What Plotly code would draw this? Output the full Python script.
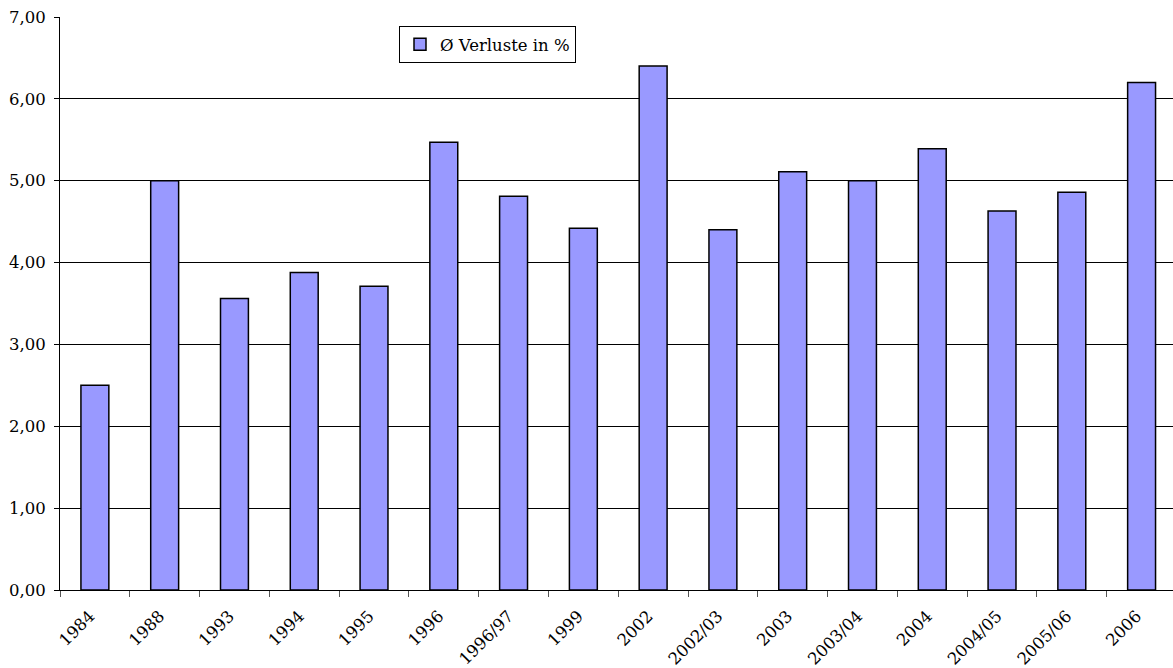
import plotly.graph_objects as go

categories = ["1984", "1988", "1993", "1994", "1995", "1996", "1996/97", "1999",
              "2002", "2002/03", "2003", "2003/04", "2004", "2004/05", "2005/06", "2006"]
values = [2.50, 5.00, 3.56, 3.88, 3.71, 5.47, 4.81, 4.42,
          6.40, 4.40, 5.11, 5.00, 5.39, 4.63, 4.86, 6.20]
series_name = "Ø Verluste in %"
y_ticks = [0, 1, 2, 3, 4, 5, 6, 7]

font_family = "DejaVu Serif"
fs = 16.5

fig = go.Figure(go.Bar(
    x=categories, y=values, name=series_name,
    marker=dict(color="#9999FF", line=dict(color="black", width=1.5)),
    width=0.4, showlegend=True,
))

fig.update_layout(
    template="none",
    width=1173, height=668,
    margin=dict(l=60, r=0, t=17, b=78),
    paper_bgcolor="white", plot_bgcolor="white",
    separators=",.",
    font=dict(family=font_family, size=fs, color="black"),
    legend=dict(
        x=(399 - 60) / 1113, y=1 - (26 - 17) / 573, xanchor="left", yanchor="top",
        bordercolor="black", borderwidth=1, bgcolor="white",
        font=dict(family=font_family, size=fs, color="black"),
        itemwidth=30, tracegroupgap=0,
    ),
    bargap=0.6,
)

fig.update_xaxes(
    type="category", range=[-0.5, 15.45],
    showline=True, linecolor="black", linewidth=1,
    ticks="outside", tickson="boundaries", ticklen=6, tickcolor="#555555",
    tickangle=-45, showgrid=False,
    ticklabelshift=-5, ticklabelstandoff=9,
    tickfont=dict(family=font_family, size=fs, color="black"),
)

fig.update_yaxes(
    range=[0, 7], tickvals=y_ticks, tickformat=".2f",
    showline=True, linecolor="black", linewidth=1,
    ticks="outside", ticklen=5, tickcolor="black", ticklabelstandoff=5,
    showgrid=True, gridcolor="black", gridwidth=1,
    zeroline=False,
    tickfont=dict(family=font_family, size=fs, color="black"),
)

fig.write_html("out.html")
